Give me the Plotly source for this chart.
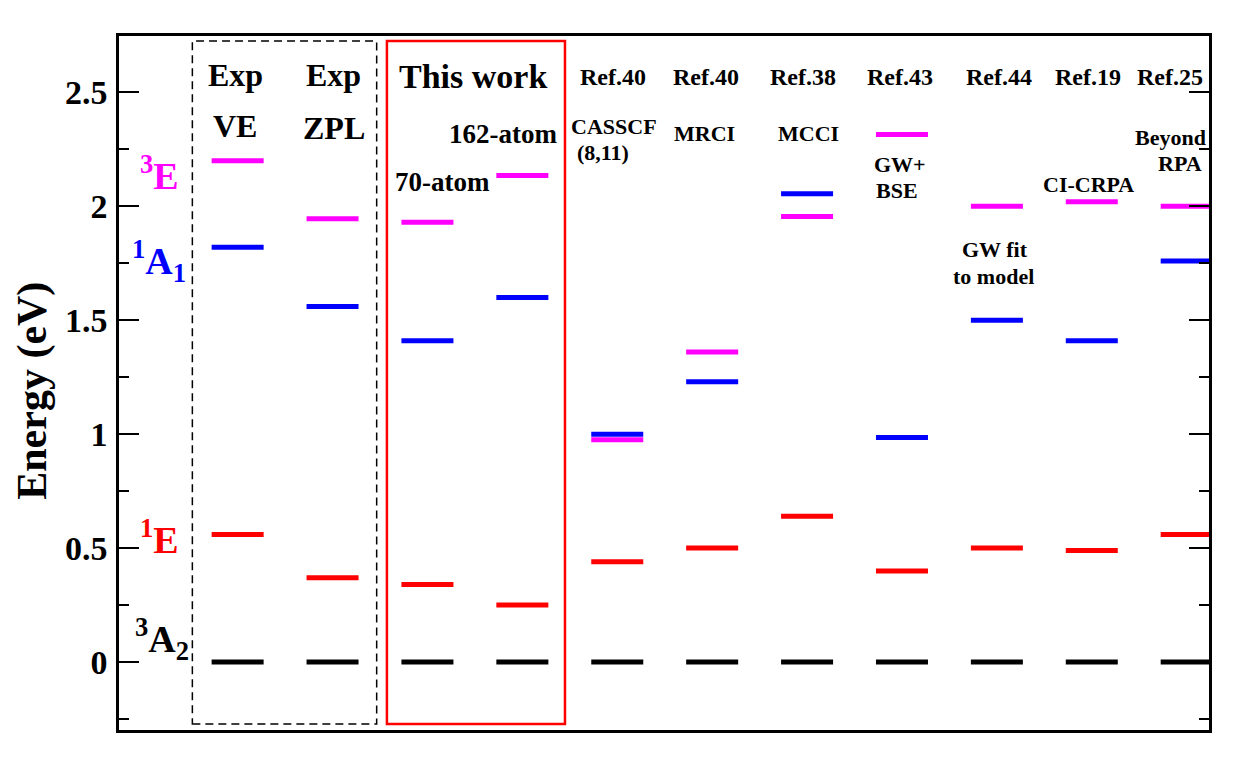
import plotly.graph_objects as go

# ---- data ----
columns = [1, 2, 3, 4, 5, 6, 7, 8, 9, 10, 11]
col_labels = ["Exp VE", "Exp ZPL", "70-atom", "162-atom", "CASSCF(8,11)", "MRCI",
              "MCCI", "GW+BSE", "GW fit to model", "CI-CRPA", "Beyond RPA"]
E_3A2 = [0, 0, 0, 0, 0, 0, 0, 0, 0, 0, 0]
E_1E = [0.56, 0.37, 0.34, 0.25, 0.44, 0.50, 0.64, 0.40, 0.50, 0.49, 0.56]
E_1A1 = [1.82, 1.56, 1.41, 1.60, 1.00, 1.23, 2.055, 0.985, 1.50, 1.41, 1.76]
E_3E = [2.20, 1.945, 1.93, 2.135, 0.975, 1.36, 1.955, 2.315, 2.00, 2.02, 2.00]

y_tickvals = [0, 0.5, 1, 1.5, 2, 2.5]
y_ticktext = ["0", "0.5", "1", "1.5", "2", "2.5"]

FONT = "Liberation Serif"
HALF = 0.274


def segs(vals):
    xs, ys = [], []
    for c, v in zip(columns, vals):
        if v is None:
            continue
        xs += [c - HALF, c + HALF, None]
        ys += [v, v, None]
    return xs, ys


fig = go.Figure()
for vals, col, name in [(E_3A2, "#000000", "3A2"), (E_1E, "#FF0000", "1E"),
                        (E_1A1, "#0000FF", "1A1"), (E_3E, "#FF00FF", "3E")]:
    xs, ys = segs(vals)
    fig.add_trace(go.Scatter(x=xs, y=ys, mode="lines", name=name,
                             line=dict(color=col, width=5), hoverinfo="skip",
                             showlegend=False))

# boxes
fig.add_shape(type="rect", xref="x", yref="y", x0=0.523, x1=2.465, y0=-0.272, y1=2.725,
              line=dict(color="black", width=1.5, dash="8px,5px"))
fig.add_shape(type="rect", xref="x", yref="y", x0=2.573, x1=4.449, y0=-0.272, y1=2.725,
              line=dict(color="#FF0000", width=2.5))


def ann(text, x, y, size, color="black", xanchor="center"):
    fig.add_annotation(text=text, x=x, y=y, xref="x", yref="y", showarrow=False,
                       xanchor=xanchor, yanchor="middle",
                       font=dict(family=FONT, size=size, color=color, weight="bold"))


ann("Exp", 0.976, 2.575, 32)
ann("VE", 0.972, 2.354, 32)
ann("Exp", 2.015, 2.575, 32)
ann("ZPL", 2.012, 2.344, 32)
ann("This work", 3.484, 2.570, 34)
ann("162-atom", 3.80, 2.317, 27)
ann("70-atom", 3.163, 2.105, 27)
ann("Ref.40", 4.952, 2.567, 24)
ann("Ref.40", 5.935, 2.567, 24)
ann("Ref.38", 6.952, 2.567, 24)
ann("Ref.43", 7.981, 2.567, 24)
ann("Ref.44", 9.021, 2.567, 24)
ann("Ref.19", 9.960, 2.567, 24)
ann("Ref.25", 10.829, 2.567, 24)
ann("CASSCF", 4.964, 2.352, 22)
ann("(8,11)", 4.853, 2.237, 22)
ann("MRCI", 5.918, 2.319, 22)
ann("MCCI", 7.017, 2.319, 22)
ann("GW+", 7.978, 2.182, 22)
ann("BSE", 7.952, 2.070, 22)
ann("GW fit", 8.985, 1.812, 22)
ann("to model", 8.964, 1.693, 22)
ann("CI-CRPA", 9.965, 2.096, 22)
ann("Beyond", 10.834, 2.300, 22)
ann("RPA", 10.929, 2.187, 22)

# state labels
ann("<sup>3</sup>E", 0.407, 2.145, 38, "#FF00FF", "right")
ann("<sup>1</sup>A<sub>1</sub>", 0.476, 1.761, 38, "#0000FF", "right")
ann("<sup>1</sup>E", 0.407, 0.548, 38, "#FF0000", "right")
ann("<sup>3</sup>A<sub>2</sub>", 0.512, 0.101, 38, "black", "right")

# axis title
fig.add_annotation(text="Energy (eV)", x=-0.079, y=1.19, xref="paper", yref="y",
                   textangle=-90, showarrow=False, xanchor="center", yanchor="middle",
                   font=dict(family=FONT, size=42, color="black", weight="bold"))

fig.update_layout(
    width=1222, height=749,
    margin=dict(l=111, r=21, t=28, b=27),
    plot_bgcolor="white", paper_bgcolor="white",
    showlegend=False,
)
fig.update_xaxes(range=[-0.25, 11.235], showgrid=False, zeroline=False,
                 showticklabels=False, ticks="", showline=True, linecolor="black",
                 linewidth=2.5, mirror=True)
fig.update_yaxes(range=[-0.298, 2.747], showgrid=False, zeroline=False,
                 tickvals=y_tickvals, ticktext=y_ticktext, ticks="inside", ticklen=20,
                 tickwidth=2, tickcolor="black", showline=True, linecolor="black",
                 linewidth=2.5, mirror="ticks", ticklabelstandoff=2,
                 tickfont=dict(family=FONT, size=34, color="black", weight="bold"),
                 minor=dict(dtick=0.25, tick0=0, ticks="inside", ticklen=10,
                            tickwidth=2, tickcolor="black", showgrid=False))

fig.write_html("out.html")
